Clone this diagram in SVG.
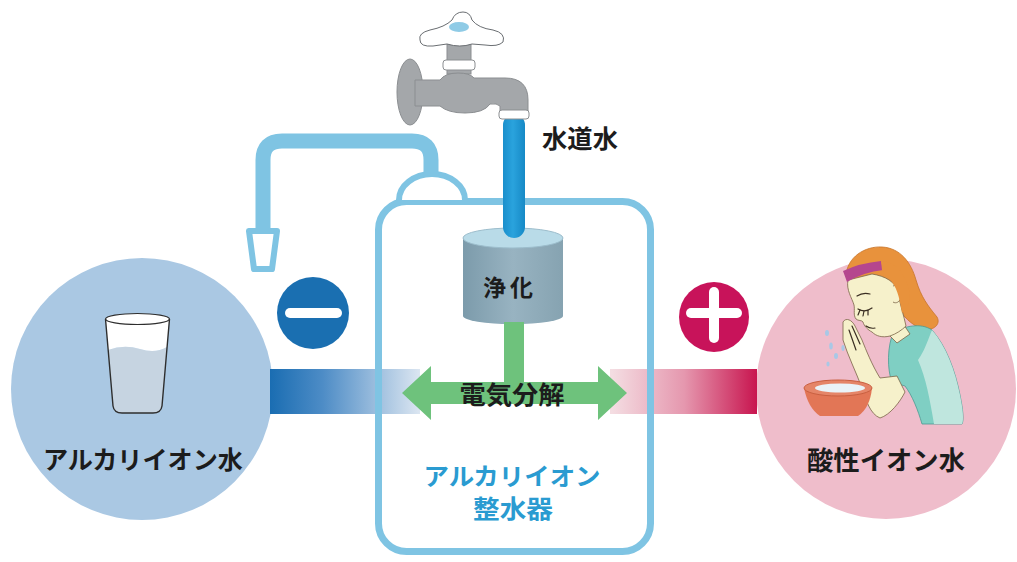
<svg xmlns="http://www.w3.org/2000/svg" width="1017" height="562" viewBox="0 0 1017 562">
  <style>
    .lbl { font-family: "Noto Sans CJK JP", "Noto Sans CJK SC", sans-serif; font-weight: 700; fill: #1c1c1c; text-anchor: middle; dominant-baseline: central; }
    .blue { fill: #2a9bd1; }
    .pipe { fill: none; stroke: #7fc4e3; stroke-linecap: butt; stroke-linejoin: round; }
    .tap { fill: #a4a7aa; stroke: #8b8e91; stroke-width: 1; }
    .skin { fill: #f6f1cb; stroke: #7a6548; stroke-width: 0.8; }
    .line { fill: none; stroke: #3a2e22; stroke-width: 1.2; stroke-linecap: round; }
  </style>
  <defs>
    <linearGradient id="bandL" x1="270" y1="0" x2="420" y2="0" gradientUnits="userSpaceOnUse">
      <stop offset="0" stop-color="#1a6db2"/>
      <stop offset="0.35" stop-color="#4d8cc6"/>
      <stop offset="1" stop-color="#dce6f1"/>
    </linearGradient>
    <linearGradient id="bandR" x1="612" y1="0" x2="757" y2="0" gradientUnits="userSpaceOnUse">
      <stop offset="0" stop-color="#f4dde2"/>
      <stop offset="0.5" stop-color="#e597ae"/>
      <stop offset="1" stop-color="#c8154f"/>
    </linearGradient>
    <linearGradient id="can" x1="0" y1="0" x2="1" y2="0">
      <stop offset="0" stop-color="#7c9bab"/>
      <stop offset="0.5" stop-color="#98b3c1"/>
      <stop offset="1" stop-color="#86a3b1"/>
    </linearGradient>
    <linearGradient id="stream" x1="0" y1="0" x2="1" y2="0">
      <stop offset="0" stop-color="#1a8fcc"/>
      <stop offset="0.45" stop-color="#2aa3dd"/>
      <stop offset="1" stop-color="#1689c6"/>
    </linearGradient>
  </defs>

  <rect width="1017" height="562" fill="#ffffff"/>

  <!-- alkaline output -->
  <g id="alkaline">
    <circle cx="142" cy="389" r="131" fill="#aac8e3"/>
    <path d="M108 350 Q124 344 140 349 Q155 354 167 347 L162 406 Q161 413 153 413 L122 413 Q114 413 113 406 Z" fill="#c6d4e1"/>
    <path d="M105.5 319 L108 350 Q124 344 140 349 Q155 354 167 347 L169.5 319 Z" fill="#ffffff"/>
    <ellipse cx="137.5" cy="319" rx="32" ry="5.5" fill="#ffffff" stroke="#2e2e2e" stroke-width="1.2"/>
    <path d="M105.5 319 L113 406 Q114 413 122 413 L153 413 Q161 413 162 406 L169.5 319" fill="none" stroke="#2e2e2e" stroke-width="1.4"/>
    <text class="lbl" x="143" y="458" font-size="25" textLength="200" lengthAdjust="spacingAndGlyphs">アルカリイオン水</text>
  </g>

  <!-- acidic output -->
  <g id="acidic">
    <circle cx="886" cy="389" r="130" fill="#efbdcb"/>
    <!-- hair, back -->
    <path d="M846 276 C847 257 865 246 882 247 C900 248 911 262 916 280 C921 297 928 306 937 317 C941 324 934 331 924 329 C914 327 906 319 900 311 L896 300 Z" fill="#e8923c" stroke="#c87428" stroke-width="0.8"/>
    <!-- shirt -->
    <path d="M894 331 C905 327 920 322 932 330 C946 346 955 370 960 395 C963 410 964 420 962 424 L922 424 C918 410 912 395 905 386 L892 382 C887 370 887 345 894 331 Z" fill="#7fcfc3" stroke="#4d9a92" stroke-width="0.8"/>
    <path d="M932 330 C946 346 955 370 960 395 C963 410 964 420 962 424 L934 424 C930 400 926 378 918 360 C924 352 928 340 932 330 Z" fill="#bfe6de"/>
    <!-- neck -->
    <path d="M888 334 L904 325 L910 334 L897 343 Z" class="skin"/>
    <!-- face -->
    <path d="M848 280 C846 290 852 298 854 305 C855 310 853 315 856 319 C858 321 862 320 863 322 C864 326 868 330 872 332 C876 336 882 338 890 336 C896 334 902 330 906 326 C904 316 900 305 898 292 C896 282 885 276 872 274 Z" class="skin"/>
    <path d="M893 286 C899 283 903 290 901 297 C900 302 896 304 893 302" class="skin"/>
    <!-- headband -->
    <path d="M843 271 Q860 263 881 261 L883 270 Q864 272 847 282 Z" fill="#b5468e"/>
    <!-- hair, front strand -->
    <path d="M881 261 C896 261 906 275 909 290 C911 300 907 310 902 313 C900 301 898 290 892 282 C888 276 884 272 882 270 Z" fill="#e8923c"/>
    <!-- features -->
    <path class="line" d="M857 296 Q863 292 870 294"/>
    <path class="line" d="M858 309 Q865 313 872 308"/>
    <path class="line" d="M860 310 L858 315 M864 311 L863 316 M868 310 L868 315"/>
    <path class="line" d="M866 326 Q870 329 875 328"/>
    <!-- arm and hands -->
    <path d="M843 322 C846 317 852 320 855 326 L862 340 C866 350 872 365 880 378 L897 376 L905 392 C900 402 890 415 880 418 C870 414 866 400 862 388 C856 372 848 356 843 340 Z" class="skin"/>
    <path class="line" d="M849 330 L856 350 M852 326 L860 344" stroke-width="0.8"/>
    <!-- basin -->
    <path d="M804 388 Q808 408 820 416 L858 416 Q870 408 872 388 Z" fill="#e27656"/>
    <ellipse cx="838" cy="388" rx="34" ry="8" fill="#e58568" stroke="#c95f40" stroke-width="1"/>
    <ellipse cx="840" cy="388" rx="25" ry="4.5" fill="#eaf3f8"/>
    <!-- splashes -->
    <g fill="#a9c8e6">
      <ellipse cx="827" cy="333" rx="2" ry="3"/>
      <ellipse cx="831" cy="346" rx="1.8" ry="3.5"/>
      <ellipse cx="836" cy="356" rx="2" ry="3"/>
      <ellipse cx="828" cy="364" rx="1.6" ry="2.5"/>
      <ellipse cx="843" cy="348" rx="1.6" ry="3"/>
    </g>
    <text class="lbl" x="886" y="458" font-size="26" textLength="158" lengthAdjust="spacingAndGlyphs">酸性イオン水</text>
  </g>

  <!-- connectors: output bands -->
  <g id="connectors">
    <rect x="270" y="369" width="150" height="45" fill="url(#bandL)"/>
    <rect x="610" y="369" width="147" height="45" fill="url(#bandR)"/>
  </g>

  <!-- ionizer body -->
  <g id="ionizer">
    <rect x="378.5" y="201.5" width="272" height="350" rx="28" fill="none" stroke="#7fc4e3" stroke-width="7"/>
    <path d="M399 200 A33 26 0 0 1 465 200" fill="#ffffff" stroke="#7fc4e3" stroke-width="6"/>
    <text class="lbl blue" x="512" y="474" font-size="24" textLength="177" lengthAdjust="spacingAndGlyphs">アルカリイオン</text>
    <text class="lbl blue" x="513" y="507" font-size="25" textLength="80" lengthAdjust="spacingAndGlyphs">整水器</text>
  </g>

  <!-- outlet pipe and spout -->
  <g id="outlet">
    <path class="pipe" stroke-width="15" d="M431 176 L431 160 Q431 141 412 141 L282 141 Q263 141 263 160 L263 232"/>
    <path d="M249 231 L277 231 L272 269 L254 269 Z" fill="#ffffff" stroke="#7fc4e3" stroke-width="6" stroke-linejoin="round"/>
  </g>

  <!-- tap -->
  <g id="tap">
    <ellipse cx="410" cy="92" rx="13" ry="33" class="tap"/>
    <rect x="447" y="44" width="24" height="30" class="tap"/>
    <path class="tap" d="M415 80 L440 80 Q445 73 458 73 Q470 73 474 78 L505 78 Q528 78 528 100 L528 114 L500 114 L500 106 Q497 103 490 104 Q484 113 465 113 Q448 113 440 106 L415 106 Z"/>
    <rect x="443" y="60" width="32" height="10" rx="3" fill="#ffffff" stroke="#8b8e91" stroke-width="1"/>
    <path d="M420 40 Q418 33 430 30 Q445 27 452 20 Q455 12 463 12 Q470 12 472 20 Q478 28 493 30 Q506 33 503 42 Q498 47 485 45 L472 44 Q460 48 447 44 L433 46 Q420 47 420 40 Z" fill="#ffffff" stroke="#6a6e72" stroke-width="1"/>
    <ellipse cx="459" cy="27" rx="10" ry="5" fill="#8fcbe6"/>
    <text class="lbl" x="580" y="137" font-size="25" textLength="76" lengthAdjust="spacingAndGlyphs">水道水</text>
  </g>

  <!-- purifier -->
  <g id="purifier">
    <path d="M463 238 L463 316 A50 8 0 0 0 563 316 L563 238 Z" fill="url(#can)"/>
    <ellipse cx="513" cy="238" rx="50" ry="10" fill="#b9dbe8" stroke="#9cbdcc" stroke-width="1"/>
    <rect x="503" y="114" width="22" height="124" rx="11" fill="url(#stream)"/>
    <rect x="499" y="110" width="30" height="9" rx="3" fill="#ffffff" stroke="#8b8e91" stroke-width="1"/>
    <text class="lbl" x="514" y="286" font-size="23" letter-spacing="12" textLength="62" lengthAdjust="spacing">浄化</text>
  </g>

  <!-- electrolysis -->
  <g id="electrolysis">
    <rect x="504" y="322" width="20" height="62" fill="#6ec27c"/>
    <path d="M402 393 L431 366 L431 382 L598 382 L598 366 L627 393 L598 420 L598 404 L431 404 L431 420 Z" fill="#6ec27c"/>
    <text class="lbl" x="512" y="393" font-size="25" textLength="105" lengthAdjust="spacingAndGlyphs">電気分解</text>
  </g>

  <!-- polarity marks -->
  <g id="minus">
    <circle cx="313" cy="313" r="36" fill="#1a6fb1"/>
    <rect x="285" y="308" width="57" height="10" rx="5" fill="#ffffff"/>
  </g>
  <g id="plus">
    <circle cx="714" cy="317" r="35" fill="#c8135a"/>
    <rect x="686" y="308" width="56" height="10" rx="5" fill="#ffffff"/>
    <rect x="709" y="287" width="10" height="56" rx="5" fill="#ffffff"/>
  </g>
</svg>
